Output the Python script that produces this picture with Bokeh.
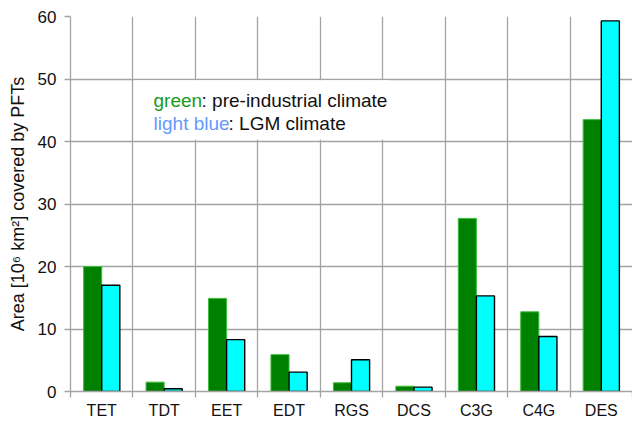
from bokeh.plotting import figure
from bokeh.models import FixedTicker, ColumnDataSource, BoxAnnotation, Label
from bokeh.embed import file_html
from bokeh.resources import INLINE

categories = ["TET", "TDT", "EET", "EDT", "RGS", "DCS", "C3G", "C4G", "DES"]
preindustrial = [20.0, 1.5, 14.9, 5.9, 1.4, 0.85, 27.7, 12.75, 43.5]
lgm = [17.0, 0.45, 8.3, 3.1, 5.07, 0.7, 15.3, 8.8, 59.3]
y_ticks = [0, 10, 20, 30, 40, 50, 60]

FONT = "Liberation Sans"
GRID = "#a3a3a3"

centers = [i + 0.5 for i in range(len(categories))]
boundaries = list(range(len(categories) + 1))

p = figure(width=632, height=422, output_backend="svg", toolbar_location=None,
           x_range=(0, len(categories)), y_range=(0, 60),
           min_border_left=70, min_border_right=0, min_border_top=16, min_border_bottom=31)
p.outline_line_color = None
p.background_fill_color = "white"
p.border_fill_color = "white"

src = ColumnDataSource(dict(
    xg=[c - 0.145 for c in centers],
    xc=[c + 0.145 for c in centers],
    g=preindustrial, l=lgm))

p.vbar(x="xg", top="g", bottom=0, width=0.29, source=src,
       fill_color="#008000", line_color="#3cbf3c", line_width=1)
p.vbar(x="xc", top="l", bottom=0, width=0.29, source=src,
       fill_color="#00ffff", line_color="black", line_width=1.4)

# x axis
p.xaxis.ticker = FixedTicker(ticks=centers, minor_ticks=boundaries)
p.xaxis.major_label_overrides = {c: lab for c, lab in zip(centers, categories)}
p.xaxis.major_tick_out = 0
p.xaxis.major_tick_in = 0
p.xaxis.minor_tick_out = 6
p.xaxis.minor_tick_in = 0
p.xaxis.minor_tick_line_color = GRID
p.xaxis.minor_tick_line_width = 1.3
p.xaxis.axis_line_color = GRID
p.xaxis.axis_line_width = 1.3
p.xaxis.major_label_standoff = 4
p.xaxis.major_label_text_font = FONT
p.xaxis.major_label_text_font_size = "16px"
p.xaxis.major_label_text_color = "#111111"

p.xgrid.ticker = FixedTicker(ticks=boundaries)
p.xgrid.grid_line_color = GRID
p.xgrid.grid_line_width = 1.3

# y axis
p.yaxis.ticker = FixedTicker(ticks=y_ticks)
p.yaxis.major_tick_out = 6
p.yaxis.major_tick_in = 0
p.yaxis.minor_tick_line_color = None
p.yaxis.major_tick_line_color = GRID
p.yaxis.major_tick_line_width = 1.3
p.yaxis.axis_line_color = GRID
p.yaxis.axis_line_width = 1.3
p.yaxis.major_label_standoff = 8
p.yaxis.major_label_text_font = FONT
p.yaxis.major_label_text_font_size = "17px"
p.yaxis.major_label_text_color = "#111111"
p.yaxis.axis_label = "Area [10\u2076 km\u00b2] covered by PFTs"
p.yaxis.axis_label_text_font = FONT
p.yaxis.axis_label_text_font_size = "18px"
p.yaxis.axis_label_text_font_style = "normal"
p.yaxis.axis_label_text_color = "#111111"
p.yaxis.axis_label_standoff = 7

p.ygrid.grid_line_color = GRID
p.ygrid.grid_line_width = 1.3

# text box
p.add_layout(BoxAnnotation(left=1.03, right=5.1, bottom=40.3, top=49.8,
                           fill_color="white", fill_alpha=1.0, line_color=None))

TXT = "19px"
p.add_layout(Label(x=1.33, y=46.6, text="green", text_color="#1a991a",
                   text_font=FONT, text_font_size=TXT, text_baseline="middle"))
p.add_layout(Label(x=1.33, y=46.6, x_offset=48, text=": pre-industrial climate", text_color="#111111",
                   text_font=FONT, text_font_size=TXT, text_baseline="middle"))
p.add_layout(Label(x=1.33, y=42.9, text="light blue", text_color="#6699ff",
                   text_font=FONT, text_font_size=TXT, text_baseline="middle"))
p.add_layout(Label(x=1.33, y=42.9, x_offset=75, text=": LGM climate", text_color="#111111",
                   text_font=FONT, text_font_size=TXT, text_baseline="middle"))

open("out.html", "w").write(file_html(p, INLINE))
